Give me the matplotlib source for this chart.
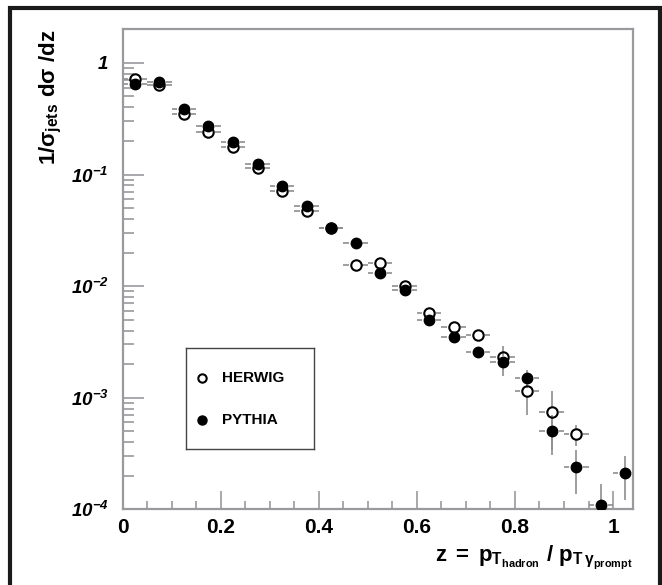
import numpy as np
import matplotlib
matplotlib.use("Agg")
import matplotlib.pyplot as plt
from matplotlib.patches import Rectangle
from matplotlib.ticker import FixedLocator, LogLocator, NullFormatter

plt.rcParams['font.family'] = ['Liberation Sans', 'DejaVu Sans']
plt.rcParams['font.weight'] = 'bold'
plt.rcParams['mathtext.fontset'] = 'custom'
plt.rcParams['mathtext.rm'] = 'Liberation Sans:bold'
plt.rcParams['mathtext.bf'] = 'Liberation Sans:bold:italic'
plt.rcParams['mathtext.it'] = 'Liberation Sans:bold:italic'
plt.rcParams['mathtext.sf'] = 'Liberation Sans:bold'

# bin centres in z (bin width 0.05)
z = [0.025, 0.075, 0.125, 0.175, 0.225, 0.275, 0.325, 0.375, 0.425, 0.475, 0.525,
     0.575, 0.625, 0.675, 0.725, 0.775, 0.825, 0.875, 0.925, 0.975, 1.025]
z_halfwidth = 0.025

herwig = [0.72, 0.63, 0.347, 0.238, 0.177, 0.115, 0.071, 0.047, 0.033, 0.0154, 0.016,
          0.0100, 0.00569, 0.00427, 0.00364, 0.00233, 0.00115, 0.00074, 0.00047,
          np.nan, np.nan]
herwig_err = [0.012, 0.011, 0.007, 0.005, 0.004, 0.003, 0.002, 0.0015, 0.0011, 0.0007,
              0.0007, 0.0005, 0.0004, 0.0003, 0.0004, 0.00055, 0.00045, 0.0004, 0.0001,
              np.nan, np.nan]

pythia = [0.65, 0.676, 0.385, 0.273, 0.196, 0.123, 0.0787, 0.0524, 0.0329, 0.0241, 0.013,
          0.0093, 0.00496, 0.00347, 0.00258, 0.00209, 0.00149, 0.000506, 0.000238,
          0.000109, 0.00021]
pythia_err = [0.011, 0.011, 0.007, 0.005, 0.004, 0.003, 0.002, 0.0015, 0.0011, 0.0008,
              0.0006, 0.0005, 0.0004, 0.0003, 0.0003, 0.00054, 0.00027, 0.0002, 0.0001,
              0.00006, 0.00009]

series_names = ['HERWIG', 'PYTHIA']

xticks = [0, 0.2, 0.4, 0.6, 0.8, 1.0]
xtick_labels = ['0', '0.2', '0.4', '0.6', '0.8', '1']
yticks = [1e-4, 1e-3, 1e-2, 1e-1, 1]
ytick_labels = [r'$\mathbf{10^{-4}}$', r'$\mathbf{10^{-3}}$', r'$\mathbf{10^{-2}}$',
                r'$\mathbf{10^{-1}}$', r'$\mathbf{1}$']

axis_grey = '#9a9a9e'
err_grey = '#8e8e8e'
open_style = dict(marker='o', linestyle='none', markerfacecolor='none',
                  markeredgecolor='black', markeredgewidth=1.5)
full_style = dict(marker='o', linestyle='none', color='black')

# error bars stop short of the marker, ROOT style
gap_x = 0.014      # in z units
gap_dec = 0.05     # in decades of the log axis

fig = plt.figure(figsize=(6.62, 5.85), dpi=100)
ax = fig.add_axes([0.1853, 0.1294, 0.9557 - 0.1853, 0.9499 - 0.1294])

zc = np.array(z)
for vals, errs in [(herwig, herwig_err), (pythia, pythia_err)]:
    v = np.array(vals)
    e = np.array(errs)
    ok = ~np.isnan(v)
    ax.hlines(v[ok], zc[ok] - z_halfwidth, zc[ok] - gap_x, color=err_grey, lw=1.2, zorder=2)
    ax.hlines(v[ok], zc[ok] + gap_x, zc[ok] + z_halfwidth, color=err_grey, lw=1.2, zorder=2)
    up0, up1 = v * 10 ** gap_dec, v + e
    lo0, lo1 = np.clip(v - e, 1e-6, None), v / 10 ** gap_dec
    m_up = ok & (up1 > up0)
    m_lo = ok & (lo0 < lo1)
    ax.vlines(zc[m_up], up0[m_up], up1[m_up], color=err_grey, lw=1.2, zorder=2)
    ax.vlines(zc[m_lo], lo0[m_lo], lo1[m_lo], color=err_grey, lw=1.2, zorder=2)

ax.plot(z, pythia, markersize=7.5, zorder=3, **full_style)
ax.plot(z, herwig, markersize=7.5, zorder=4, **open_style)

ax.set_yscale('log')
ax.set_xlim(0, 1.04)
ax.set_ylim(1e-4, 2.0)

ax.xaxis.set_major_locator(FixedLocator(xticks))
ax.set_xticklabels(xtick_labels)
ax.xaxis.set_minor_locator(FixedLocator(np.arange(0.05, 1.04, 0.05)))
ax.yaxis.set_major_locator(FixedLocator(yticks))
ax.set_yticklabels(ytick_labels)
ax.yaxis.set_minor_locator(LogLocator(base=10, subs=np.arange(2, 10)))
ax.yaxis.set_minor_formatter(NullFormatter())

ax.tick_params(axis='both', which='both', direction='in', color=axis_grey, width=1.2)
ax.tick_params(axis='x', which='major', length=13, labelsize=15, pad=6)
ax.tick_params(axis='x', which='minor', length=6)
ax.tick_params(axis='y', which='major', length=15, labelsize=13.5, pad=10)
ax.tick_params(axis='y', which='minor', length=8)
for lab in ax.get_xticklabels():
    lab.set_fontweight('bold')

for sp in ax.spines.values():
    sp.set_color(axis_grey)
    sp.set_linewidth(1.6)

ax.set_ylabel(r'$\mathrm{1/\sigma_{jets}\ d\sigma\ /dz}$', fontsize=16, loc='top')
ax.yaxis.set_label_coords(-0.115, 1.0)
ax.set_xlabel(r'$\mathrm{z\;=\;p_{T_{hadron}}\ /\ p_{T\,\gamma_{prompt}}}$',
              fontsize=16, loc='right')
ax.xaxis.set_label_coords(1.0, -0.07)

# legend box drawn as a small framed inset
lax = ax.inset_axes([0.124, 0.125, 0.251, 0.211])
lax.set_xlim(0, 1)
lax.set_ylim(0, 1)
lax.set_xticks([])
lax.set_yticks([])
for sp in lax.spines.values():
    sp.set_color('#444444')
    sp.set_linewidth(1.0)
lax.plot([0.125], [0.70], markersize=6, **open_style)
lax.plot([0.125], [0.29], markersize=6.5, **full_style)
lax.text(0.28, 0.70, series_names[0], fontsize=11, fontweight='bold', va='center')
lax.text(0.28, 0.29, series_names[1], fontsize=11, fontweight='bold', va='center')

# heavy outer frame round the figure
fig.add_artist(Rectangle((10 / 662, -0.02), 650 / 662, 1 - 8 / 585 + 0.02,
                         transform=fig.transFigure, fill=False,
                         edgecolor='#1a1a1a', linewidth=3))

fig.savefig('out.png', dpi=100)
